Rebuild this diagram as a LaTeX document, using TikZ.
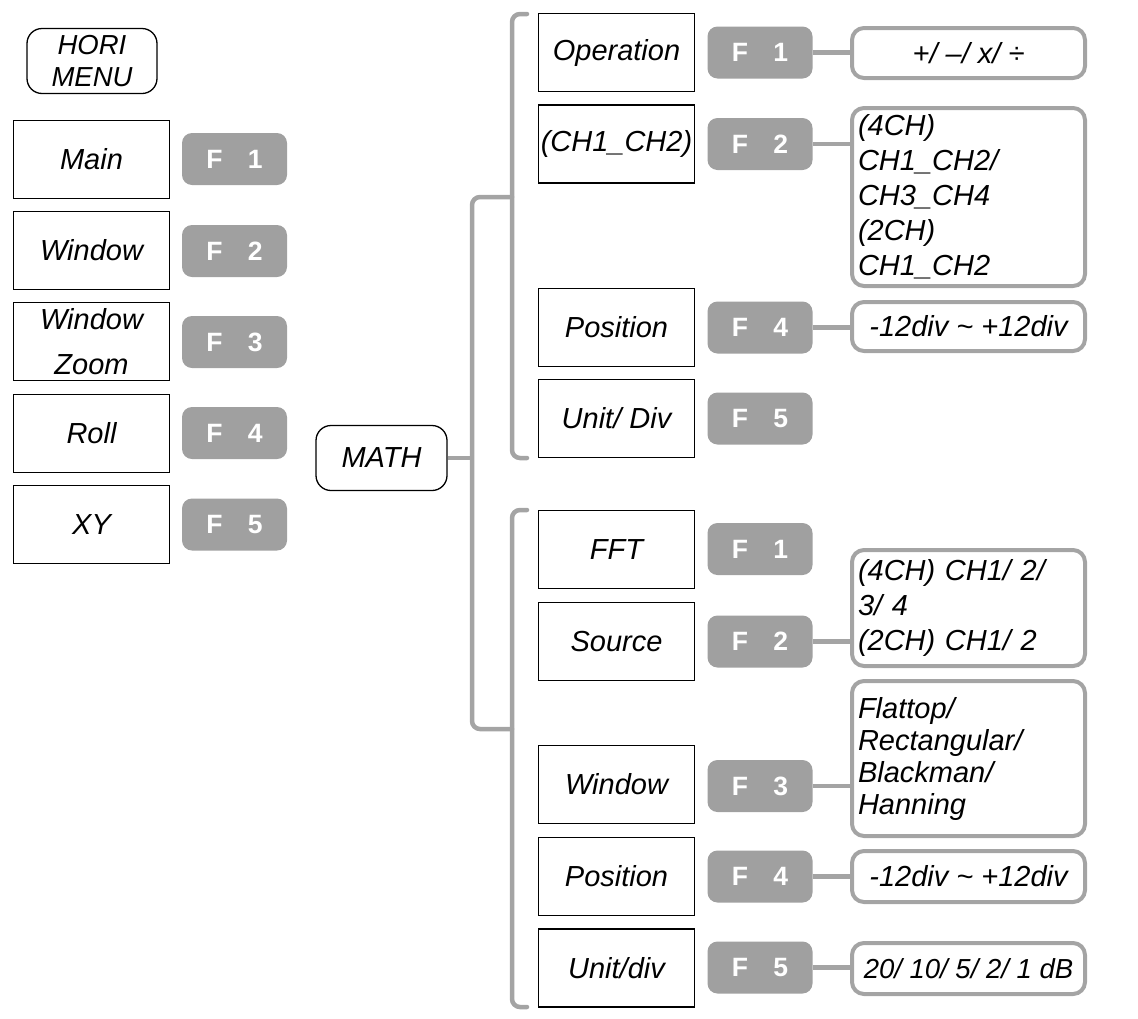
\documentclass[tikz,border=0pt]{standalone}
\usepackage{fontspec}
\setmainfont{Liberation Sans}
\definecolor{fk}{HTML}{A0A0A0}
\definecolor{ln}{HTML}{A4A4A4}
\newcommand{\mfont}{\fontsize{29}{34}\selectfont\itshape}
\newcommand{\kfont}{\fontsize{26.5}{32}\selectfont\bfseries}
\newcommand{\fk}[1]{F\hspace{0.95em}#1\hspace{12pt}}
\tikzset{
  mbox/.style={draw=black, line width=1.3pt, minimum width=156pt, minimum height=78pt, inner sep=0pt, font=\mfont, align=center},
  rbox/.style={draw=black, line width=1.3pt, rounded corners=15pt, minimum width=130pt, minimum height=65pt, inner sep=0pt, font=\mfont, align=center},
  fkey/.style={fill=fk, rounded corners=10pt, minimum width=105pt, minimum height=52pt, inner sep=0pt, font=\kfont, text=white},
  vbox/.style={draw=ln, line width=4pt, rounded corners=12pt, minimum width=233pt, inner sep=0pt, font=\mfont},
  link/.style={draw=ln, line width=4.5pt, line cap=round}
}
\begin{document}
\begin{tikzpicture}[x=1pt, y=-1pt]
\useasboundingbox (0,0) rectangle (1138,1018);

% left column
\node[rbox, font=\fontsize{27.5}{32}\selectfont\itshape] (hori) at (92,61) {HORI\\MENU};
\node[mbox] (main) at (91.5,159.5) {Main};
\node[mbox] (win) at (91.5,250.5) {Window};
\node[mbox, font=\fontsize{29}{45}\selectfont\itshape] (wz) at (91.5,341.5) {Window\\Zoom};
\node[mbox] (roll) at (91.5,433.5) {Roll};
\node[mbox] (xy) at (91.5,524.5) {XY};
\node[fkey] (lf1) at (234.5,159) {\fk{1}};
\node[fkey] (lf2) at (234.5,251) {\fk{2}};
\node[fkey] (lf3) at (234.5,342) {\fk{3}};
\node[fkey] (lf4) at (234.5,433) {\fk{4}};
\node[fkey] (lf5) at (234.5,524.5) {\fk{5}};

% MATH
\node[rbox, minimum width=131pt] (mathn) at (381.5,458) {MATH};

% top group
\node[mbox] (op) at (616.5,52.5) {Operation};
\node[mbox] (ch) at (616.5,144) {(CH1\_CH2)};
\node[mbox] (tpos) at (616.5,327.5) {Position};
\node[mbox] (tunit) at (616.5,418.5) {Unit/ Div};
\node[fkey] (tf1) at (760,52.5) {\fk{1}};
\node[fkey] (tf2) at (760,144) {\fk{2}};
\node[fkey] (tf4) at (760,327.5) {\fk{4}};
\node[fkey] (tf5) at (760,418.5) {\fk{5}};
\node[vbox, minimum height=50pt, align=center] (tv1) at (968.5,53) {+/ --/ x/ \char"00F7};
\node[vbox, minimum height=178pt, text width=221pt, align=left, font=\fontsize{29}{35}\selectfont\itshape] (tv2) at (968.5,197) {(4CH)\\CH1\_CH2/\\CH3\_CH4\\(2CH)\\CH1\_CH2};
\node[vbox, minimum height=49pt, align=center] (tv4) at (968.5,326.5) {-12div \textasciitilde{} +12div};

% bottom group
\node[mbox] (fft) at (616.5,549.5) {FFT};
\node[mbox] (src) at (616.5,641.5) {Source};
\node[mbox] (bwin) at (616.5,784.5) {Window};
\node[mbox] (bpos) at (616.5,876.5) {Position};
\node[mbox] (bunit) at (616.5,968) {Unit/div};
\node[fkey] (bf1) at (760,549) {\fk{1}};
\node[fkey] (bf2) at (760,641.5) {\fk{2}};
\node[fkey] (bf3) at (760,786) {\fk{3}};
\node[fkey] (bf4) at (760,876.5) {\fk{4}};
\node[fkey] (bf5) at (760,967.5) {\fk{5}};
\node[vbox, minimum height=116pt, text width=221pt, align=left, font=\fontsize{29}{35}\selectfont\itshape] (bv2) at (968.5,608) {(4CH) CH1/ 2/\\3/ 4\\(2CH) CH1/ 2};
\node[vbox, minimum height=155pt, text width=221pt, align=left, font=\fontsize{29}{32}\selectfont\itshape] (bv3) at (968.5,758.5) {Flattop/\\Rectangular/\\Blackman/\\Hanning};
\node[vbox, minimum height=51pt, align=center] (bv4) at (968.5,876.5) {-12div \textasciitilde{} +12div};
\node[vbox, minimum height=51pt, align=center, font=\fontsize{27.5}{32}\selectfont\itshape] (bv5) at (968.5,968.5) {20/ 10/ 5/ 2/ 1 dB};

% brackets and hub
\coordinate (tA) at (527,14);
\coordinate (tB) at (527,458);
\coordinate (bA) at (527,510);
\coordinate (bB) at (527,1007);
\coordinate (hT) at (512,197);
\coordinate (hB) at (512,729);
\draw[link, rounded corners=8pt] (tA) -- ++(-15,0) |- (tB);
\draw[link, rounded corners=8pt] (bA) -- ++(-15,0) |- (bB);
\draw[link, rounded corners=8pt] (hT) -- ++(-40,0) |- (hB);
\draw[link, line cap=butt] (mathn.east) -- ++(25,0);

% value connectors
\draw[link, line cap=butt] (tf1.east) -- (tf1.east -| tv1.west);
\draw[link, line cap=butt] (tf2.east) -- (tf2.east -| tv2.west);
\draw[link, line cap=butt] (tf4.east) -- (tf4.east -| tv4.west);
\draw[link, line cap=butt] (bf2.east) -- (bf2.east -| bv2.west);
\draw[link, line cap=butt] (bf3.east) -- (bf3.east -| bv3.west);
\draw[link, line cap=butt] (bf4.east) -- (bf4.east -| bv4.west);
\draw[link, line cap=butt] (bf5.east) -- (bf5.east -| bv5.west);
\end{tikzpicture}
\end{document}
